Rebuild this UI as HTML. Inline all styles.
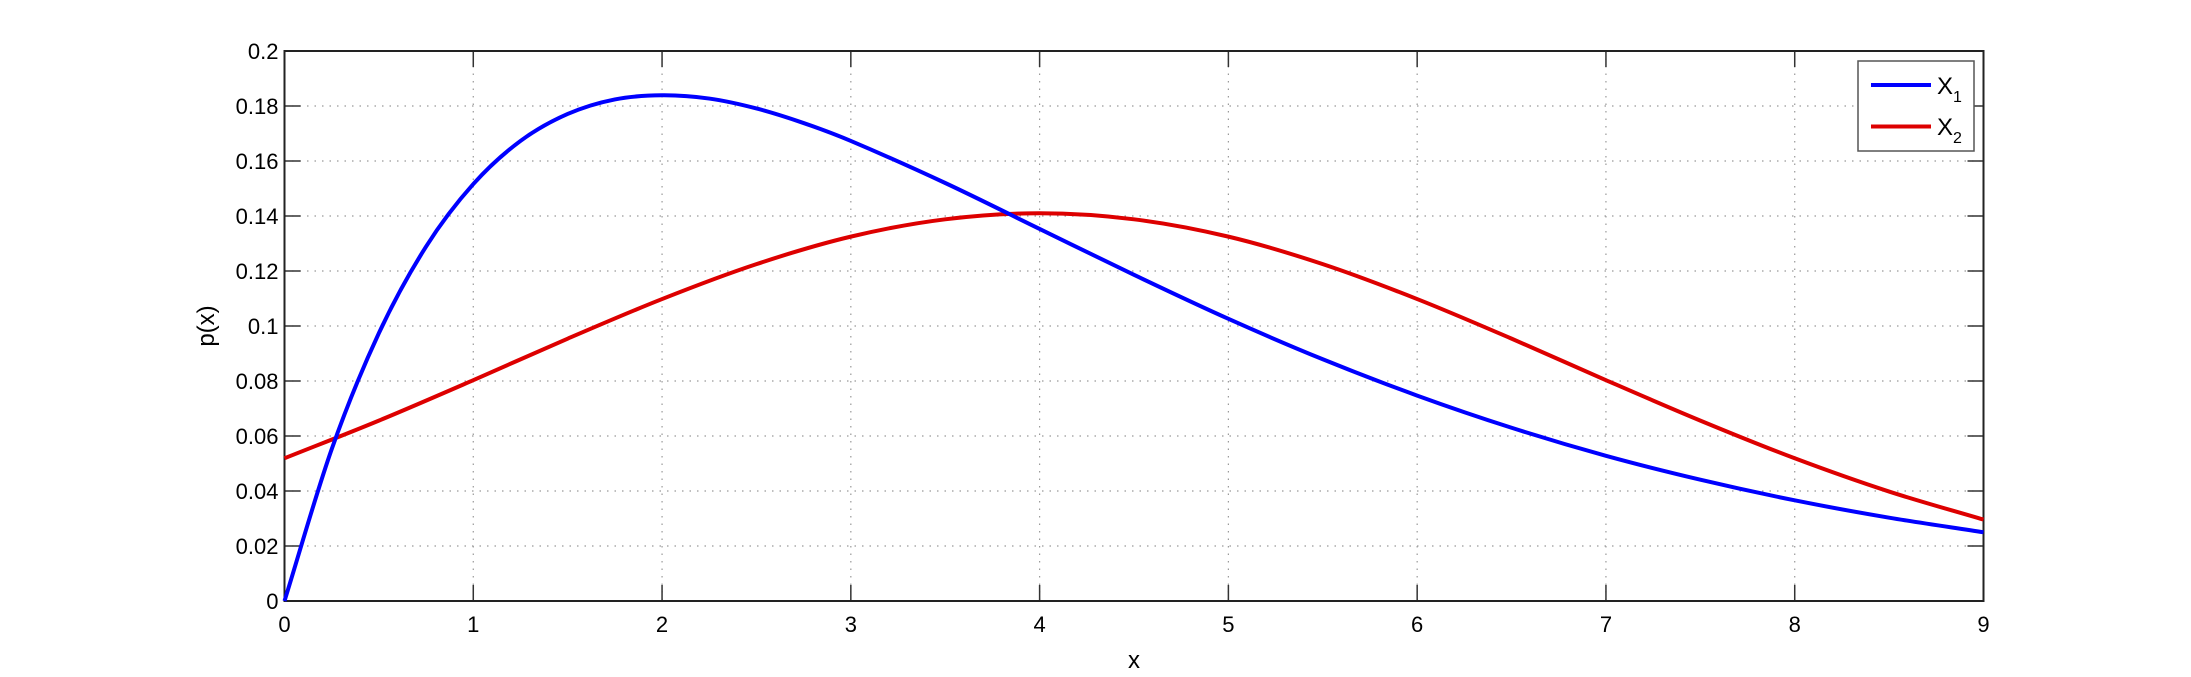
<!DOCTYPE html>
<html><head><meta charset="utf-8"><style>
html,body{margin:0;padding:0;background:#fff;}
svg{display:block;font-family:"Liberation Sans",Arial,sans-serif;}
</style></head><body>
<svg id="chart" width="2191" height="677" viewBox="0 0 2191 677">
<g id="grid"></g>
<g id="axes"></g>
<g id="series"></g>
<text x="1134" y="668" font-size="24" text-anchor="middle">x</text>
<text transform="translate(214,326) rotate(-90)" font-size="24" text-anchor="middle">p(x)</text>
<g>
<rect x="1858" y="61" width="116" height="90" fill="#fff" stroke="#555" stroke-width="1.5"/>
<g>
<line x1="1871" y1="85" x2="1931" y2="85" stroke="#0000ff" stroke-width="4"/>
<text x="1937" y="94" font-size="24">X<tspan font-size="16" dy="8">1</tspan></text>
</g>
<g>
<line x1="1871" y1="126.5" x2="1931" y2="126.5" stroke="#dd0000" stroke-width="4"/>
<text x="1937" y="135" font-size="24">X<tspan font-size="16" dy="8">2</tspan></text>
</g>
</g>
</svg>
<script>
const xTicks=[0,1,2,3,4,5,6,7,8,9];
const yTicks=[0,0.02,0.04,0.06,0.08,0.1,0.12,0.14,0.16,0.18,0.2];
const yTickLabels=["0","0.02","0.04","0.06","0.08","0.1","0.12","0.14","0.16","0.18","0.2"];
const x1Xs=[0,0.25,0.5,0.75,1,1.25,1.5,1.75,2,2.25,2.5,2.75,3,3.5,4,4.5,5,5.5,6,6.5,7,7.5,8,8.5,9];
const x1Vals=[0,0.0552,0.0974,0.1289,0.1516,0.1673,0.1771,0.1824,0.1839,0.1827,0.1791,0.1738,0.1673,0.1520,0.1353,0.1186,0.1026,0.0879,0.0747,0.0630,0.0528,0.0441,0.0366,0.0303,0.0250];
const x2Xs=[0,0.5,1,1.5,2,2.5,3,3.5,4,4.5,5,5.5,6,6.5,7,7.5,8,8.5,9];
const x2Vals=[0.0519,0.0656,0.0803,0.0954,0.1098,0.1225,0.1325,0.1388,0.1410,0.1388,0.1325,0.1225,0.1098,0.0954,0.0803,0.0656,0.0519,0.0398,0.0296];

const L=284.5,R=1983.5,T=51,B=601;
const sx=v=>L+(v-0)/(9-0)*(R-L);
const sy=v=>B-(v-0)/(0.2-0)*(B-T);
const NS="http://www.w3.org/2000/svg";
function mk(tag,attrs,parent){const e=document.createElementNS(NS,tag);for(const k in attrs)e.setAttribute(k,attrs[k]);parent.appendChild(e);return e;}
const grid=document.getElementById('grid'),axes=document.getElementById('axes'),series=document.getElementById('series');
xTicks.forEach((t,i)=>{
  const x=sx(t);
  if(i>0&&i<xTicks.length-1){const g=mk('line',{x1:x,y1:T,x2:x,y2:B,stroke:'#999','stroke-width':1.2,'stroke-dasharray':'1.5 6'},grid);
  
  }
  mk('line',{x1:x,y1:B,x2:x,y2:B-16,stroke:'#333','stroke-width':1.5},axes);
  mk('line',{x1:x,y1:T,x2:x,y2:T+16,stroke:'#333','stroke-width':1.5},axes);
  const tx=mk('text',{x:x,y:B+31,'font-size':22,'text-anchor':'middle'},axes);
  tx.textContent=t;
  
  
});
yTicks.forEach((t,i)=>{
  const y=sy(t);
  if(i>0&&i<yTicks.length-1){const g=mk('line',{x1:L,y1:y,x2:R,y2:y,stroke:'#999','stroke-width':1.2,'stroke-dasharray':'1.5 6'},grid);
  
  }
  mk('line',{x1:L,y1:y,x2:L+16,y2:y,stroke:'#333','stroke-width':1.5},axes);
  mk('line',{x1:R,y1:y,x2:R-16,y2:y,stroke:'#333','stroke-width':1.5},axes);
  const tx=mk('text',{x:L-6,y:y+8,'font-size':22,'text-anchor':'end'},axes);
  tx.textContent=yTickLabels[i];
  
  
});
mk('rect',{x:L,y:T,width:R-L,height:B-T,fill:'none',stroke:'#222','stroke-width':2},axes);
function smooth(xs,ys){
  const n=xs.length,m=[];
  for(let i=0;i<n;i++){
    const a=Math.max(0,i-1),b=Math.min(n-1,i+1);
    m.push((ys[b]-ys[a])/(xs[b]-xs[a]));
  }
  let d='M'+sx(xs[0])+','+sy(ys[0]);
  for(let i=0;i<n-1;i++){
    const h=xs[i+1]-xs[i];
    const c1x=xs[i]+h/3,c1y=ys[i]+m[i]*h/3;
    const c2x=xs[i+1]-h/3,c2y=ys[i+1]-m[i+1]*h/3;
    d+=`C${sx(c1x)},${sy(c1y)} ${sx(c2x)},${sy(c2y)} ${sx(xs[i+1])},${sy(ys[i+1])}`;
  }
  return d;
}
const s2=mk('path',{d:smooth(x2Xs,x2Vals),fill:'none',stroke:'#dd0000','stroke-width':4},series);


const s1=mk('path',{d:smooth(x1Xs,x1Vals),fill:'none',stroke:'#0000ff','stroke-width':4},series);


</script>
</body></html>
